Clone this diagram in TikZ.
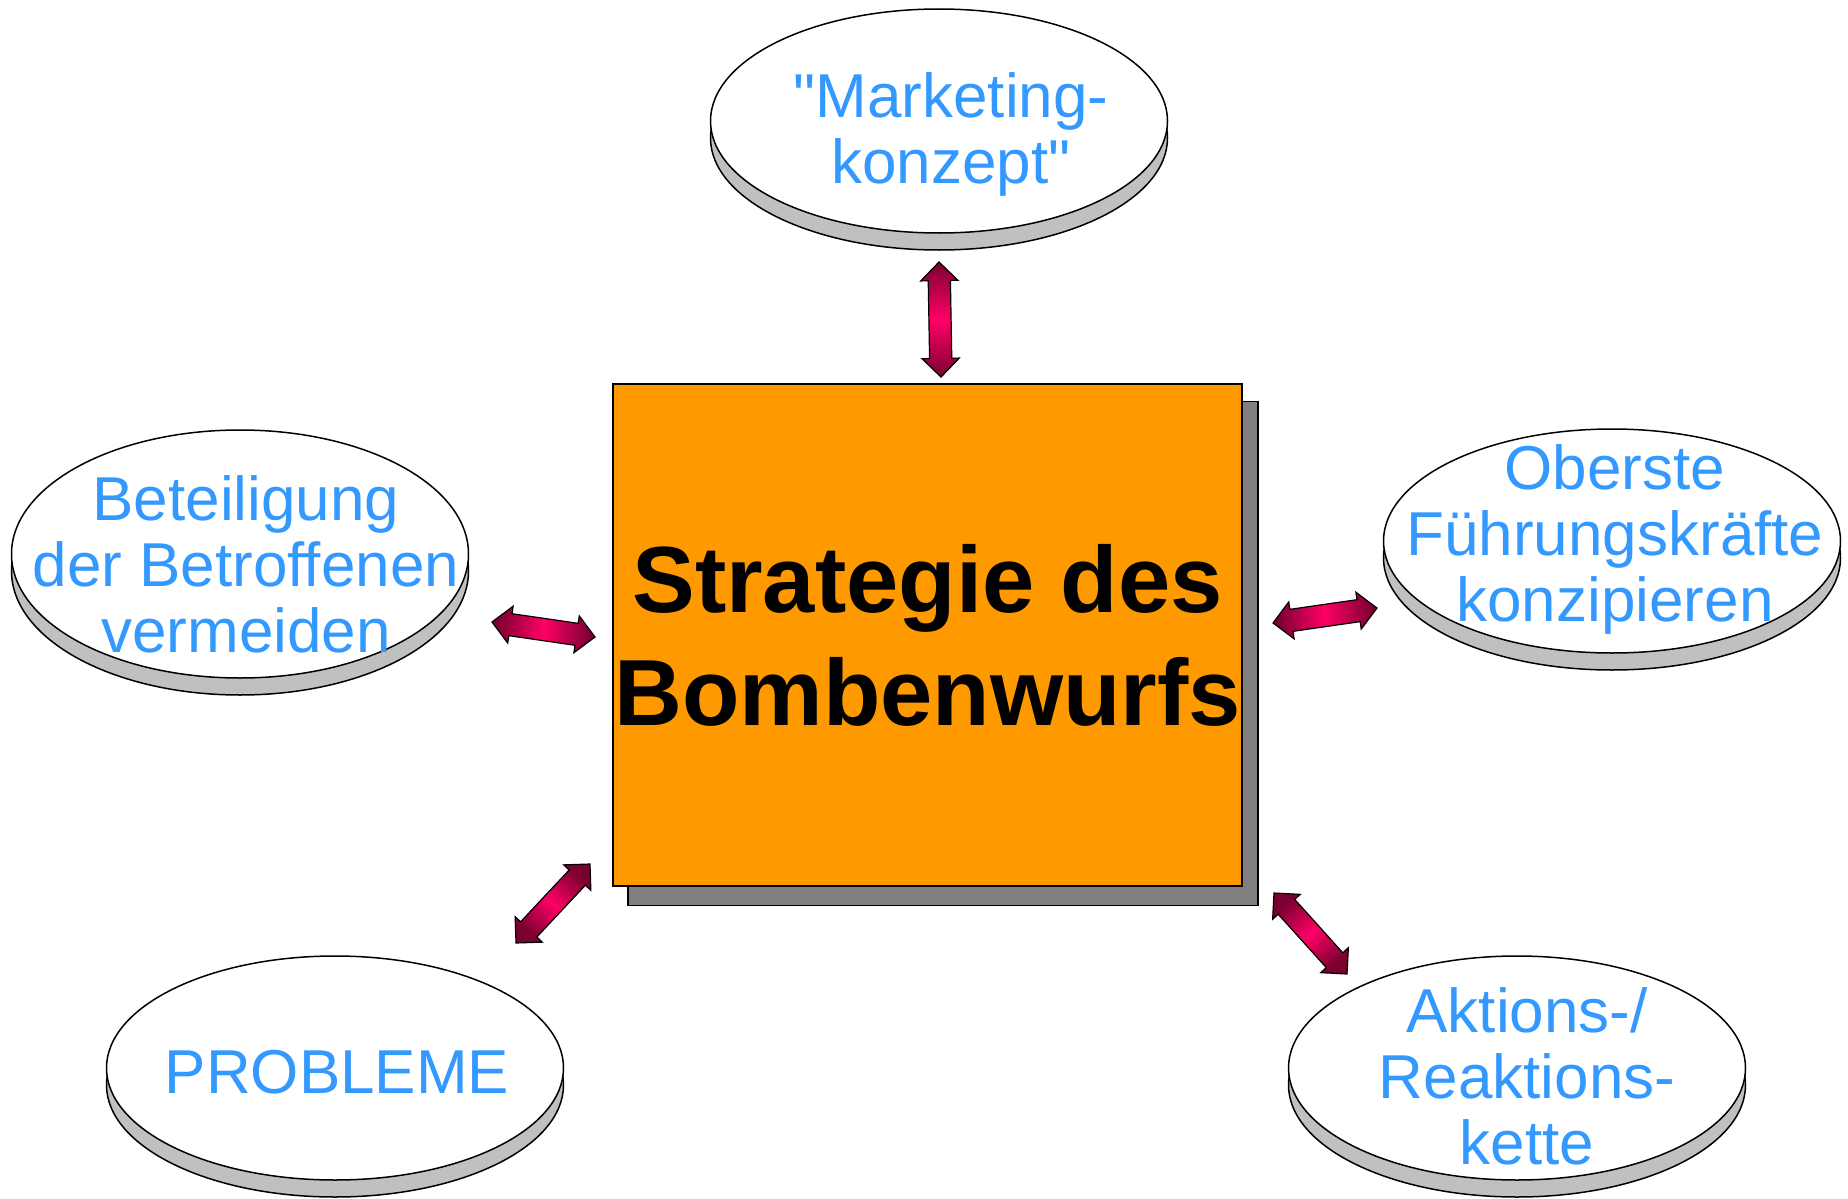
\documentclass[tikz,border=0pt]{standalone}
\usepackage{fontspec}
\setmainfont{Liberation Sans}
\usetikzlibrary{
    shapes.geometric,
    shapes.arrows,
    calc,
    positioning
}
\definecolor{ovalblue}{HTML}{3399FF}
\definecolor{boxorange}{HTML}{FF9900}
\definecolor{rimgray}{HTML}{C0C0C0}
\definecolor{shadowgray}{HTML}{808080}
\definecolor{arrowpink}{HTML}{FF0066}
\definecolor{arrowdark}{HTML}{7A0030}

\begin{document}
\begin{tikzpicture}[x=1pt,y=-1pt]
  \useasboundingbox (0,0) rectangle (1848,1199);

  % Styles for the discs, their texts and the double arrows
  \tikzset{
    disc/.style={ellipse, draw, line width=1.5pt, fill=white,
      minimum width=457pt, minimum height=224pt, inner sep=0pt},
    discrim/.style={disc, fill=rimgray},
    disctext/.style={text=ovalblue, align=center, inner sep=0pt,
      font=\fontsize{62}{66}\selectfont},
    duoarrow/.style={double arrow, draw=black, line width=1.2pt,
      inner sep=10.5pt, double arrow head extend=7.5pt,
      double arrow tip angle=90,
      left color=arrowdark, right color=arrowdark, middle color=arrowpink}
  };

  % Central box with its shadow
  \node[draw, line width=1.5pt, fill=shadowgray, inner sep=0pt,
    minimum width=630pt, minimum height=504pt] (stratshadow) at (943,653.5) {};
  \node[draw, line width=1.5pt, fill=boxorange, inner sep=0pt,
    minimum width=629pt, minimum height=502pt, align=center,
    font=\fontsize{94}{113}\selectfont\bfseries] (strat) at (927.5,635)
    {Strategie des\\Bombenwurfs};

  % Discs: grey rim first, white top on it, then the text
  % --- top
  \node[discrim] (mktrim) at (939,138) {};
  \node[disc] (mkt) at (939,121) {};
  \node[disctext] (mkttext) at (951,134)
    {\textquotedbl Marketing-\\konzept\textquotedbl};
  % --- left
  \node[discrim, minimum height=248pt] (betrim) at (240,571) {};
  \node[disc, minimum height=248pt] (bet) at (240,554) {};
  \node[disctext] (bettext) at (246,564) {Beteiligung\\der Betroffenen\\vermeiden};
  % --- right
  \node[discrim] (fuerim) at (1612,558) {};
  \node[disc] (fue) at (1612,541) {};
  \node[disctext] (fuetext) at (1615,539) {Oberste\\Führungskräfte\\konzipieren};
  % --- bottom left
  \node[discrim] (probrim) at (335,1085) {};
  \node[disc] (prob) at (335,1068) {};
  \node[disctext] (probtext) at (337,1072) {PROBLEME};
  % --- bottom right
  \node[discrim] (aktrim) at (1517,1085) {};
  \node[disc] (akt) at (1517,1068) {};
  \node[disctext] (akttext) at (1527,1076) {Aktions-/\\Reaktions-\\kette};

  % End points of the double arrows
  \coordinate (mktA) at (939,262);
  \coordinate (mktB) at (941,377);
  \coordinate (betA) at (492,622);
  \coordinate (betB) at (595,637);
  \coordinate (fueA) at (1273,623);
  \coordinate (fueB) at (1377,608);
  \coordinate (probA) at (516,943);
  \coordinate (probB) at (590,864);
  \coordinate (aktA) at (1274,893);
  \coordinate (aktB) at (1347,974);

  % Double arrows between box and discs
  \foreach \a/\ang in {mkt/0, bet/-98, fue/-82, prob/-43, akt/-138}{
    \path let \p1=($(\a B)-(\a A)$), \n1={veclen(\x1,\y1)} in
      (\a A) -- (\a B) node[duoarrow, midway, sloped, minimum height=\n1,
        shading angle=\ang] (\a arrow) {};
  }
\end{tikzpicture}
\end{document}
